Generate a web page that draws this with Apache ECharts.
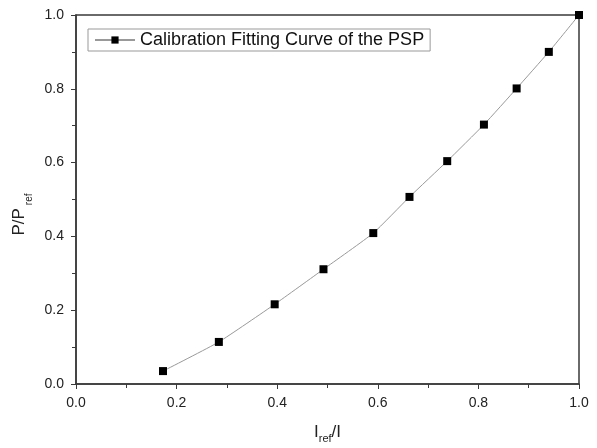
<!DOCTYPE html>
<html>
<head>
<meta charset="utf-8">
<script src="https://cdn.jsdelivr.net/npm/echarts@6/dist/echarts.min.js"></script>
<style>html,body{margin:0;padding:0;background:#fff}#c{width:597px;height:448px}</style>
</head>
<body>
<div id="c"></div>
<script>
var xValues = [0.173, 0.284, 0.395, 0.492, 0.591, 0.663, 0.738, 0.811, 0.876, 0.940, 1.0];
var yValues = [0.035, 0.114, 0.216, 0.311, 0.409, 0.507, 0.604, 0.703, 0.801, 0.900, 1.0];
var seriesName = 'Calibration Fitting Curve of the PSP';
var xTicks = ['0.0', '0.2', '0.4', '0.6', '0.8', '1.0'];
var yTicks = ['0.0', '0.2', '0.4', '0.6', '0.8', '1.0'];

var data = xValues.map(function (x, i) { return [x, yValues[i]]; });
var chart = echarts.init(document.getElementById('c'));
var axisCol = '#3a3a3a';
var font = 'Liberation Sans, Arial, sans-serif';
function commonAxis() {
  return {
    type: 'value', min: 0, max: 1, interval: 0.2,
    nameMoveOverlap: false,
    axisLine: { show: true, onZero: false, lineStyle: { color: axisCol, width: 1.5 } },
    axisTick: { show: true, inside: false, length: 5, lineStyle: { color: axisCol, width: 1 } },
    minorTick: { show: true, splitNumber: 2, length: 4, lineStyle: { color: axisCol, width: 1 } },
    splitLine: { show: false },
    minorSplitLine: { show: false }
  };
}
var xa = commonAxis();
xa.axisLabel = { color: '#222', fontSize: 14, fontFamily: font, margin: 12,
  formatter: function (v) { var i = Math.round(v / 0.2); return xTicks[i] || ''; } };
xa.name = '{a|I}{b|ref}{a|/I}';
xa.nameLocation = 'middle';
xa.nameGap = 40;
xa.nameTextStyle = { rich: {
  a: { fontSize: 17, fontFamily: font, color: '#222', verticalAlign: 'top' },
  b: { fontSize: 11, fontFamily: font, color: '#222', padding: [9, 0, 0, 0], verticalAlign: 'top' }
} };
var ya = commonAxis();
ya.axisLabel = { color: '#222', fontSize: 14, fontFamily: font, margin: 12,
  formatter: function (v) { var i = Math.round(v / 0.2); return yTicks[i] || ''; } };
ya.name = '{a|P/P}{b|ref}';
ya.nameLocation = 'middle';
ya.nameGap = 42;
ya.nameTextStyle = { padding: [0, 30, 0, 0], rich: {
  a: { fontSize: 17, fontFamily: font, color: '#222', verticalAlign: 'top' },
  b: { fontSize: 10, fontFamily: font, color: '#222', padding: [13, 0, 0, 3], verticalAlign: 'top' }
} };

chart.setOption({
  animation: false,
  backgroundColor: '#fff',
  grid: { left: 76, right: 18, top: 15, bottom: 64, outerBoundsMode: 'none', containLabel: false,
    show: true, borderColor: axisCol, borderWidth: 1.5, backgroundColor: 'transparent' },
  legend: {
    left: 88, top: 29, orient: 'horizontal',
    padding: [2, 6], borderColor: '#999', borderWidth: 1, backgroundColor: '#fff',
    itemWidth: 40, itemHeight: 9, itemGap: 5,
    textStyle: { fontSize: 18, fontFamily: font, color: '#111' },
    data: [seriesName]
  },
  xAxis: xa,
  yAxis: ya,
  series: [{
    name: seriesName,
    type: 'line',
    data: data,
    smooth: 0.15,
    symbol: 'rect',
    symbolSize: 8,
    itemStyle: { color: '#000' },
    lineStyle: { color: '#999', width: 1 },
    clip: true
  }]
});
</script>
</body>
</html>
